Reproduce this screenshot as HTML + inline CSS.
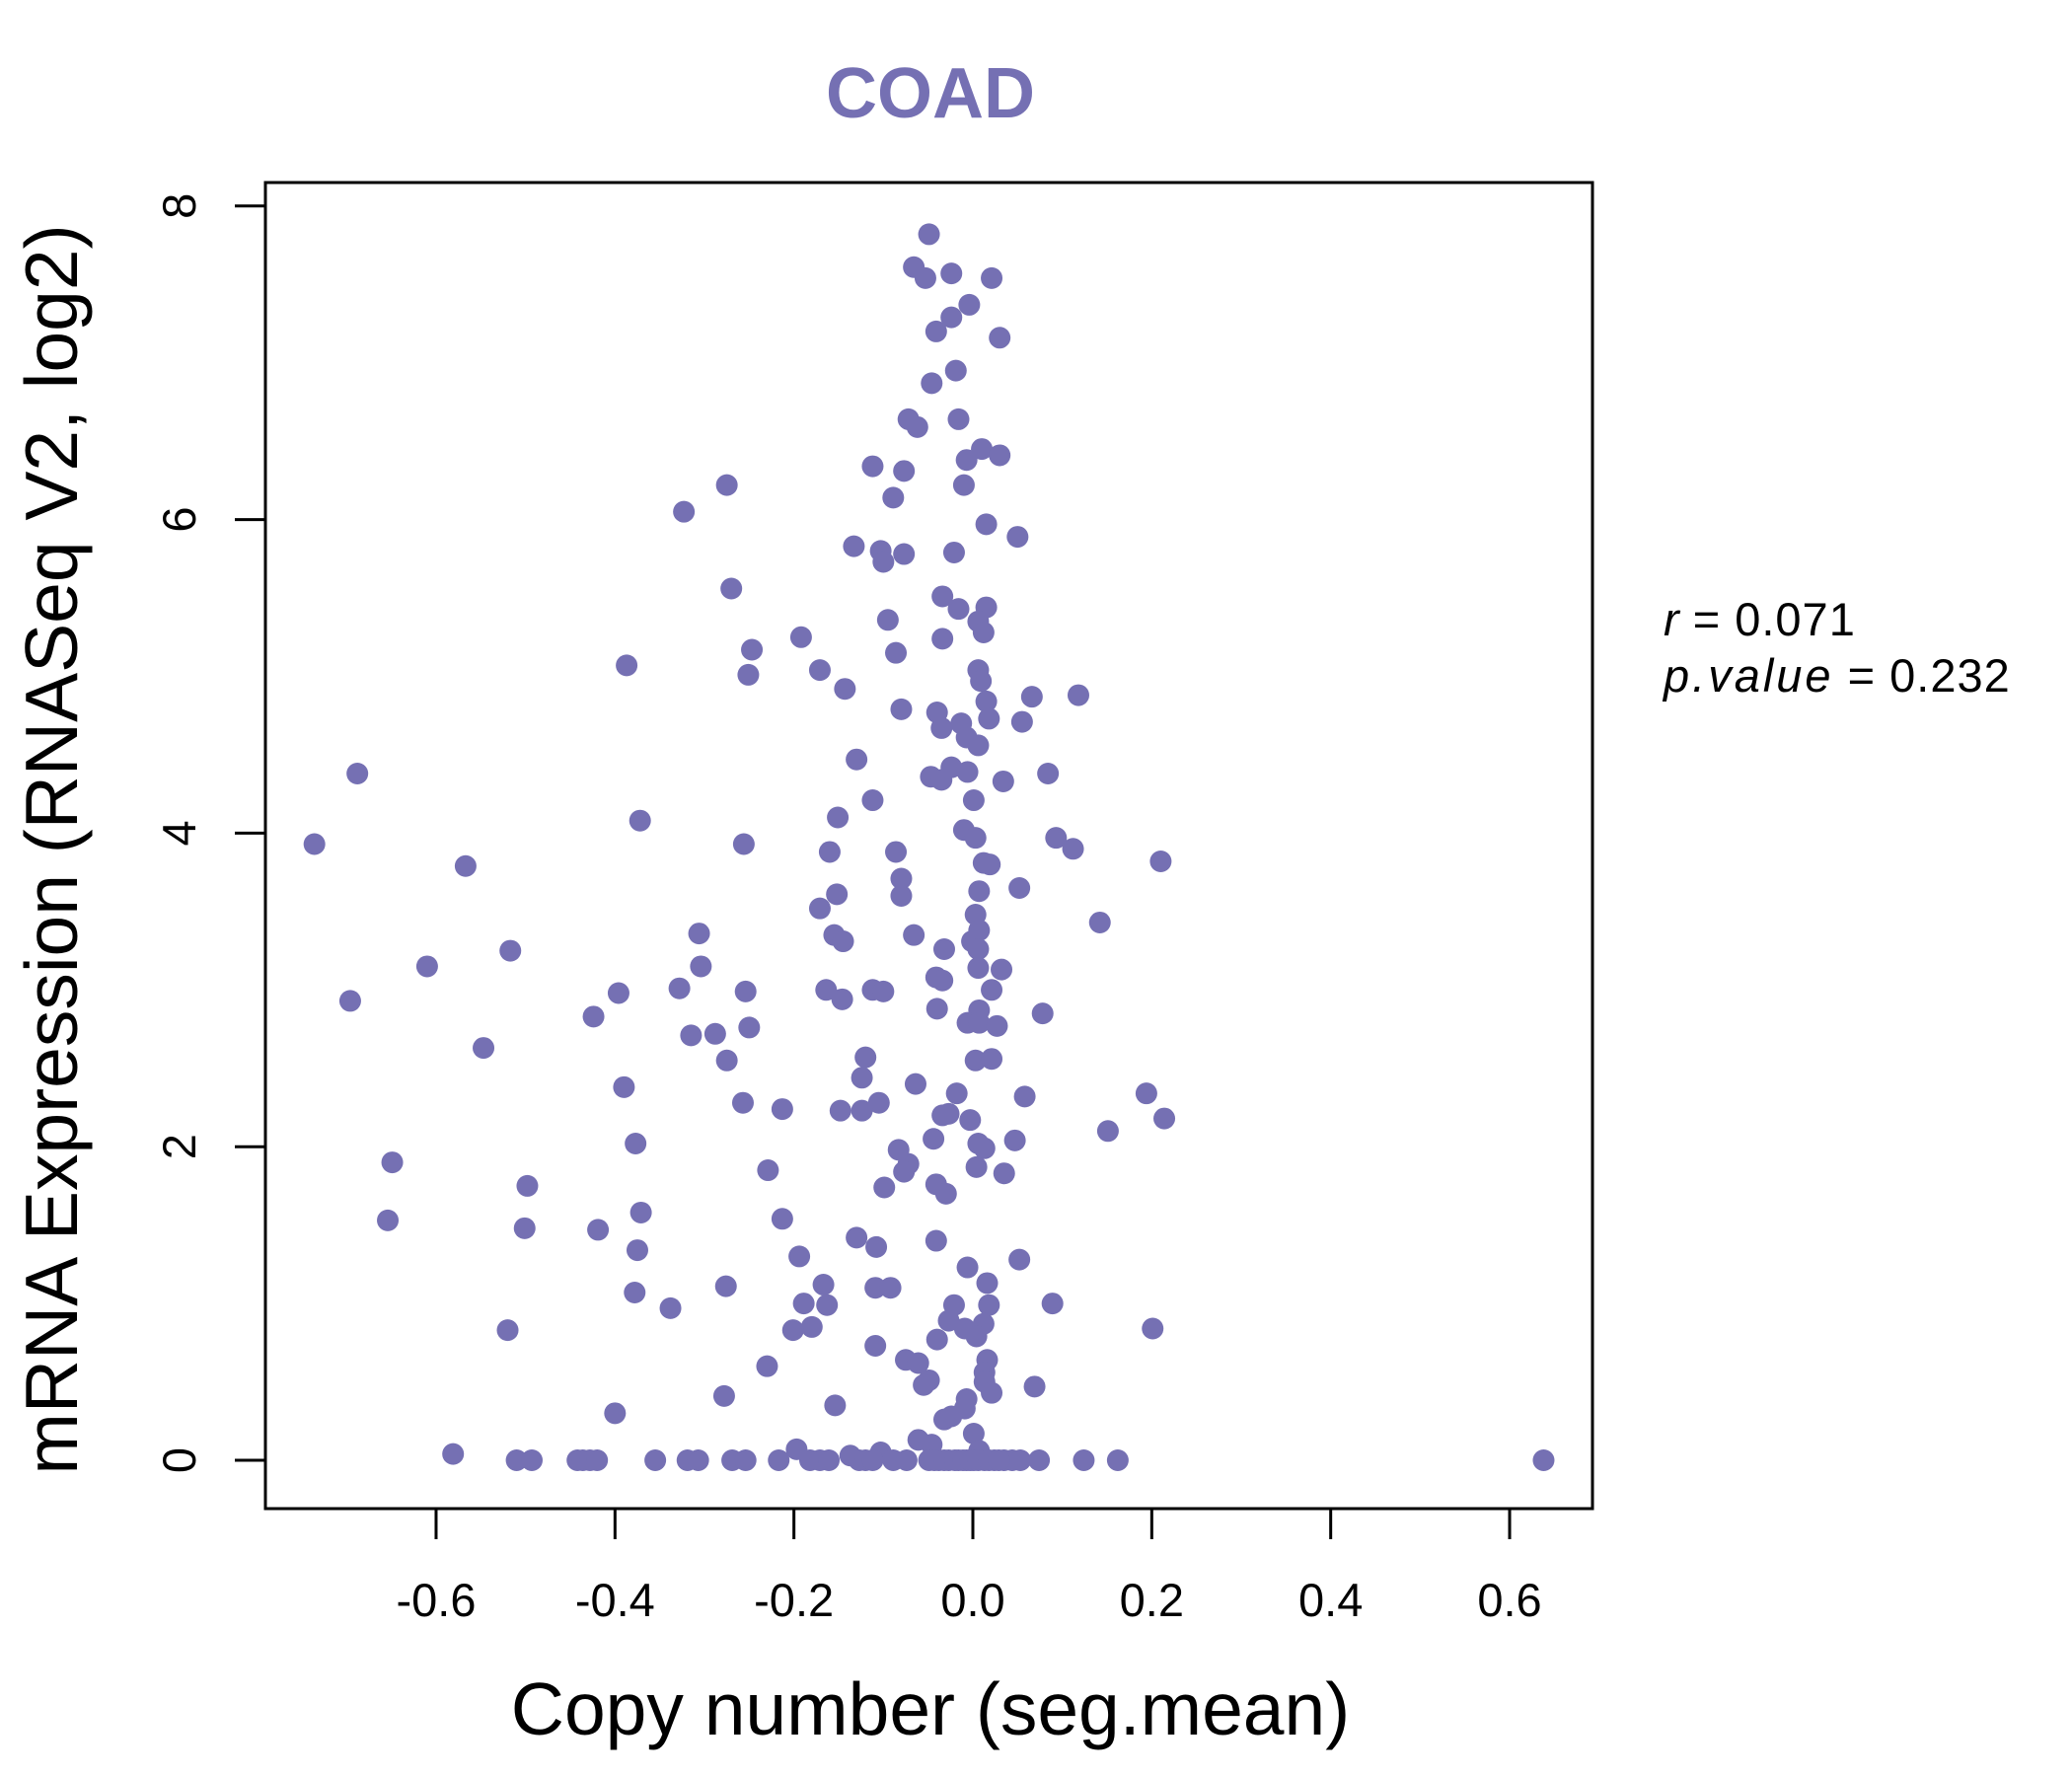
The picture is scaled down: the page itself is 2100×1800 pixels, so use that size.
<!DOCTYPE html>
<html><head><meta charset="utf-8"><style>html,body{margin:0;padding:0;background:#fff}svg{display:block}text{font-family:"Liberation Sans",sans-serif}</style></head>
<body>
<svg id="chart" width="2100" height="1800" viewBox="0 0 2100 1800" xmlns="http://www.w3.org/2000/svg">
<text x="943" y="119" text-anchor="middle" font-size="72" font-weight="bold" fill="#7570B3">COAD</text>
<rect x="269" y="185" width="1345" height="1344" fill="none" stroke="#000" stroke-width="3"/>
<g id="xaxis"></g>
<g id="yaxis"></g>
<g id="points"></g>
<text x="943" y="1758" text-anchor="middle" font-size="75">Copy number (seg.mean)</text>
<text transform="translate(78,861) rotate(-90)" text-anchor="middle" font-size="75">mRNA Expression (RNASeq V2, log2)</text>
<text x="1686" y="644" font-size="47"><tspan font-style="italic">r</tspan><tspan letter-spacing="1"> = 0.071</tspan></text>
<text x="1686" y="701" font-size="47"><tspan font-style="italic" letter-spacing="3">p.value</tspan><tspan letter-spacing="1"> = 0.232</tspan></text>
</svg>
<script>
const xTicks=[-0.6,-0.4,-0.2,0.0,0.2,0.4,0.6];
const xTickLabels=["-0.6","-0.4","-0.2","0.0","0.2","0.4","0.6"];
const yTicks=[0,2,4,6,8];
const yTickLabels=["0","2","4","6","8"];
const xs=[-0.049,-0.066,-0.053,-0.024,0.021,-0.004,-0.024,-0.041,0.030,-0.019,-0.046,-0.016,-0.072,-0.062,0.010,0.030,-0.007,-0.112,-0.077,-0.010,-0.275,-0.089,-0.323,0.015,0.050,-0.133,-0.103,-0.077,-0.021,-0.100,-0.270,-0.034,0.015,-0.016,0.006,-0.095,0.012,-0.192,-0.034,-0.247,-0.086,-0.387,-0.171,0.006,0.009,-0.251,-0.143,0.118,0.066,0.015,-0.080,-0.040,0.018,0.055,-0.013,-0.035,-0.007,0.006,-0.130,-0.024,-0.688,0.084,-0.047,-0.006,-0.035,0.034,-0.112,0.001,-0.151,-0.372,-0.010,0.093,0.003,-0.736,-0.256,0.112,-0.160,-0.086,0.210,0.012,0.019,-0.567,-0.080,0.052,0.007,-0.080,-0.152,-0.171,0.003,0.142,-0.306,-0.155,-0.066,-0.145,-0.001,0.007,-0.517,-0.032,0.006,-0.304,-0.610,0.032,0.006,-0.041,-0.034,-0.328,-0.254,-0.164,-0.112,-0.100,-0.396,0.021,-0.146,-0.696,-0.040,0.007,0.078,-0.424,-0.006,0.007,0.027,-0.250,-0.288,-0.315,-0.547,-0.120,-0.275,0.003,0.021,-0.124,-0.064,-0.390,-0.018,0.194,0.058,-0.105,-0.257,-0.213,-0.148,-0.124,-0.027,-0.034,0.214,-0.003,0.151,-0.044,0.047,0.006,-0.377,0.013,-0.083,-0.649,-0.072,0.004,0.035,-0.229,-0.077,-0.041,-0.498,-0.099,-0.030,-0.371,-0.654,-0.213,-0.501,-0.419,-0.130,-0.041,-0.108,-0.375,-0.194,0.052,-0.006,0.016,-0.276,-0.167,-0.109,-0.092,-0.378,-0.338,-0.163,-0.189,-0.021,0.018,0.089,-0.027,0.012,-0.180,-0.201,-0.009,0.201,-0.520,0.004,-0.040,-0.109,-0.075,0.016,-0.061,-0.230,0.013,-0.049,0.013,-0.055,0.069,0.021,-0.278,-0.007,-0.154,-0.009,-0.400,-0.024,-0.032,0.001,-0.061,-0.046,-0.581,-0.197,0.007,-0.103,-0.137,
-0.510,-0.493,-0.442,-0.436,-0.428,-0.420,-0.355,-0.319,-0.307,-0.269,-0.254,-0.217,-0.182,-0.171,-0.161,-0.127,-0.120,-0.112,-0.089,-0.074,-0.049,-0.038,-0.027,-0.016,-0.007,0.001,0.013,0.024,0.035,0.044,0.053,0.074,0.124,0.162,0.638,-0.043,-0.032,-0.020,-0.011,-0.003,0.006,0.018,0.029];
const ys=[7.82,7.61,7.54,7.57,7.54,7.37,7.29,7.20,7.16,6.95,6.87,6.64,6.64,6.59,6.45,6.41,6.38,6.34,6.31,6.22,6.22,6.14,6.05,5.97,5.89,5.83,5.80,5.78,5.79,5.73,5.56,5.51,5.44,5.43,5.35,5.36,5.28,5.25,5.24,5.17,5.15,5.07,5.04,5.04,4.97,5.01,4.92,4.88,4.87,4.84,4.79,4.77,4.73,4.71,4.70,4.67,4.61,4.56,4.47,4.42,4.38,4.38,4.36,4.39,4.34,4.33,4.21,4.21,4.10,4.08,4.02,3.97,3.97,3.93,3.93,3.90,3.88,3.88,3.82,3.81,3.80,3.79,3.71,3.65,3.63,3.60,3.61,3.52,3.48,3.43,3.36,3.35,3.35,3.31,3.31,3.38,3.25,3.26,3.26,3.15,3.15,3.13,3.14,3.08,3.06,3.01,2.99,3.00,3.00,2.99,2.98,3.00,2.94,2.93,2.88,2.87,2.85,2.83,2.79,2.79,2.77,2.76,2.72,2.71,2.63,2.57,2.55,2.55,2.56,2.44,2.40,2.38,2.34,2.34,2.32,2.28,2.28,2.24,2.23,2.23,2.21,2.20,2.18,2.17,2.10,2.05,2.04,2.02,2.02,1.99,1.98,1.90,1.89,1.87,1.83,1.85,1.84,1.76,1.75,1.74,1.70,1.58,1.53,1.54,1.48,1.47,1.42,1.40,1.36,1.34,1.30,1.28,1.23,1.13,1.11,1.12,1.10,1.10,1.07,0.97,0.99,1.00,0.99,0.99,1.00,0.89,0.87,0.85,0.83,0.84,0.84,0.83,0.79,0.77,0.73,0.64,0.64,0.62,0.60,0.56,0.51,0.50,0.48,0.47,0.43,0.41,0.39,0.35,0.33,0.30,0.28,0.26,0.17,0.13,0.10,0.04,0.07,0.06,0.05,0.03,
0,0,0,0,0,0,0,0,0,0,0,0,0,0,0,0,0,0,0,0,0,0,0,0,0,0,0,0,0,0,0,0,0,0,0,0,0,0,0,0,0,0,0];
const NS="http://www.w3.org/2000/svg";
function sx(v){return 986+v*906.7;}
function sy(v){return 1480-v*158.9;}
function mk(t,a,p){const e=document.createElementNS(NS,t);for(const k in a)e.setAttribute(k,a[k]);p.appendChild(e);return e;}
const xa=document.getElementById('xaxis'),ya=document.getElementById('yaxis'),pg=document.getElementById('points');
mk('line',{x1:sx(-0.6),x2:sx(0.6),y1:1529,y2:1529,stroke:'#000','stroke-width':3},xa);
xTicks.forEach((v,i)=>{
  const l=mk('line',{x1:sx(v),x2:sx(v),y1:1529,y2:1560,stroke:'#000','stroke-width':3},xa);
  
  
  const t=mk('text',{x:sx(v),y:1638,'text-anchor':'middle','font-size':47},xa);
  t.textContent=xTickLabels[i];
  
  
});
mk('line',{x1:269,x2:269,y1:sy(0),y2:sy(8),stroke:'#000','stroke-width':3},ya);
yTicks.forEach((v,i)=>{
  const l=mk('line',{x1:238,x2:269,y1:sy(v),y2:sy(v),stroke:'#000','stroke-width':3},ya);
  
  
  const t=mk('text',{transform:`translate(198,${sy(v)}) rotate(-90)`,'text-anchor':'middle','font-size':47},ya);
  t.textContent=yTickLabels[i];
  
  
});
xs.forEach((x,i)=>{
  const c=mk('circle',{cx:sx(x),cy:sy(ys[i]),r:11,fill:'#7570B3'},pg);
  
  
});
</script>
</body></html>
